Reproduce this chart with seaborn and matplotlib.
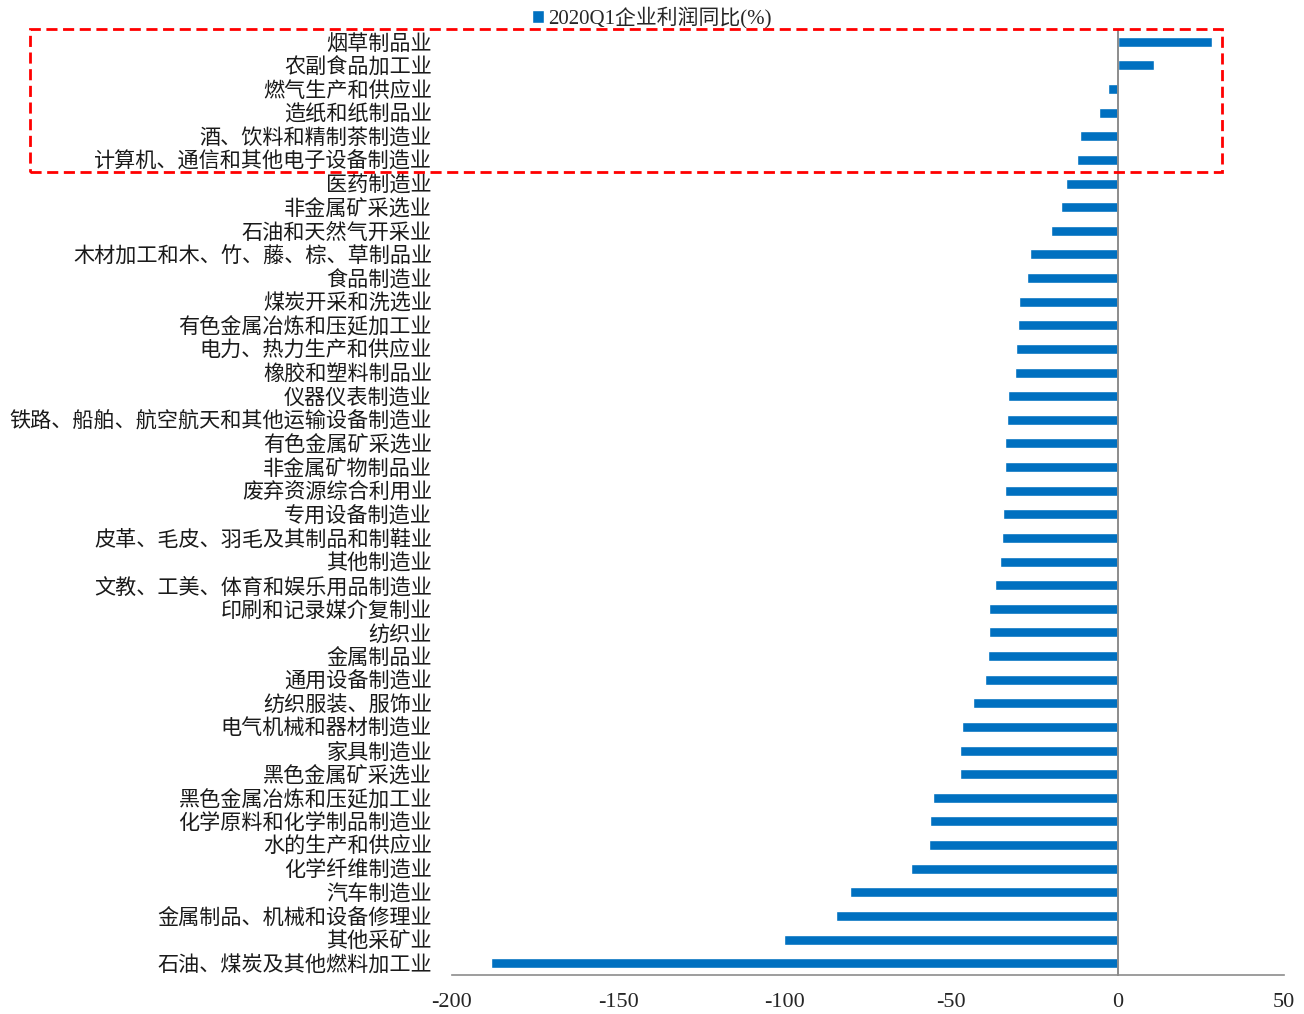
import numpy as np
import pandas as pd
import matplotlib
matplotlib.use("Agg")
import matplotlib.pyplot as plt
import matplotlib.transforms as mtransforms
from matplotlib.patches import Rectangle
import seaborn as sns

industries = [
    "烟草制品业", "农副食品加工业", "燃气生产和供应业", "造纸和纸制品业",
    "酒、饮料和精制茶制造业", "计算机、通信和其他电子设备制造业", "医药制造业",
    "非金属矿采选业", "石油和天然气开采业", "木材加工和木、竹、藤、棕、草制品业",
    "食品制造业", "煤炭开采和洗选业", "有色金属冶炼和压延加工业",
    "电力、热力生产和供应业", "橡胶和塑料制品业", "仪器仪表制造业",
    "铁路、船舶、航空航天和其他运输设备制造业", "有色金属矿采选业",
    "非金属矿物制品业", "废弃资源综合利用业", "专用设备制造业",
    "皮革、毛皮、羽毛及其制品和制鞋业", "其他制造业", "文教、工美、体育和娱乐用品制造业",
    "印刷和记录媒介复制业", "纺织业", "金属制品业", "通用设备制造业",
    "纺织服装、服饰业", "电气机械和器材制造业", "家具制造业", "黑色金属矿采选业",
    "黑色金属冶炼和压延加工业", "化学原料和化学制品制造业", "水的生产和供应业",
    "化学纤维制造业", "汽车制造业", "金属制品、机械和设备修理业", "其他采矿业",
    "石油、煤炭及其他燃料加工业",
]
profit_yoy = [
    28.3, 11.0, -2.8, -5.5, -11.3, -12.1, -15.6, -17.0, -19.9, -26.2,
    -27.2, -29.7, -30.0, -30.6, -30.7, -33.0, -33.1, -33.7, -33.8, -33.9,
    -34.5, -34.6, -35.2, -36.9, -38.5, -38.7, -39.0, -39.7, -43.3, -46.8,
    -47.5, -47.5, -55.5, -56.3, -56.7, -62.0, -80.4, -84.5, -100.2, -188.2,
]
x_ticks = [-200, -150, -100, -50, 0, 50]
series_name = "2020Q1企业利润同比(%)"

df = pd.DataFrame({"industry": industries, "value": profit_yoy})

sns.set_style("white")
plt.rcParams["font.family"] = ["Liberation Serif", "Noto Sans CJK SC"]
plt.rcParams["axes.unicode_minus"] = False

W, H = 1304, 1014
fig = plt.figure(figsize=(W / 100, H / 100), dpi=100)
ax = fig.add_axes([452 / W, 1 - 975 / H, (1284 - 452) / W, (975 - 30) / H])

sns.barplot(data=df, x="value", y="industry", orient="h", color="#0070C0",
            width=0.42, saturation=1, ax=ax, label=series_name)

grey = "#8C8C8C"
n = len(industries)
ax.set_xlim(-200, 50)
ax.set_ylim(n - 0.5, -0.5)
ax.set_xticks(x_ticks)
ax.set_xticklabels([str(t) for t in x_ticks], fontsize=16)
ax.set_xlabel("")
ax.set_ylabel("")

for s in ["top", "right"]:
    ax.spines[s].set_visible(False)
ax.spines["left"].set_position(("data", 0))
ax.spines["left"].set_color(grey)
ax.spines["left"].set_linewidth(1.4)
ax.spines["bottom"].set_color(grey)
ax.spines["bottom"].set_linewidth(1.2)

# category ticks: labels drawn as text on the far left, small marks on the zero line
ax.set_yticks(np.arange(n))
ax.set_yticklabels([])
ax.tick_params(axis="y", which="major", length=0)
ax.set_yticks(np.arange(-0.5, n, 1.0), minor=True)
ax.tick_params(axis="y", which="minor", length=4, width=1.2, color=grey, direction="out")
ax.tick_params(axis="x", length=6, width=1.2, color=grey, direction="out", pad=7)

trans = mtransforms.blended_transform_factory(ax.transAxes, ax.transData)
trans = trans + mtransforms.ScaledTranslation(0, -3 / 100, fig.dpi_scale_trans)
for i, name in enumerate(industries):
    ax.text(-20 / 832, i, name, transform=trans, ha="right", va="center",
            fontsize=15.2, color="#1a1a1a")

leg = fig.legend(loc="center", bbox_to_anchor=(0.5, 1 - 18 / H), frameon=False,
                 fontsize=15, handlelength=0.6, handleheight=0.6, handletextpad=0.2)
if ax.get_legend():
    ax.get_legend().remove()

# red dashed highlight box around the first six industries
box = Rectangle((30 / W, 1 - 172 / H), (1222 - 30) / W, (172 - 29) / H,
                transform=fig.transFigure, fill=False, edgecolor="#FF0000",
                linewidth=2.0, linestyle=(0, (4, 2)), clip_on=False)
fig.patches.append(box)

fig.savefig("out.png", dpi=100)
